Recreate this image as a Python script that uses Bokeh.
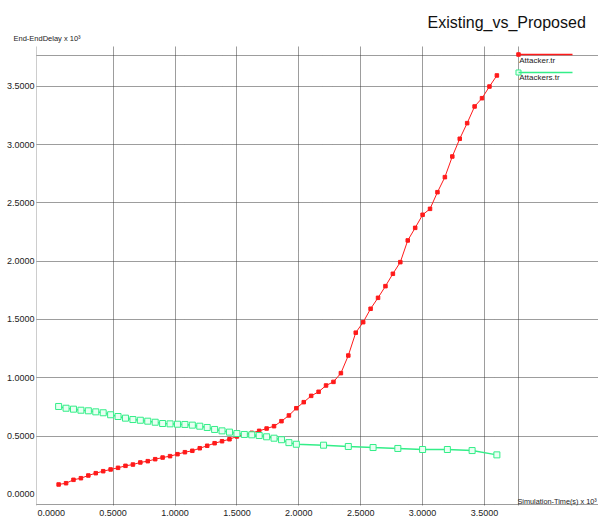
from bokeh.plotting import figure
from bokeh.models import (Range1d, FixedTicker, NumeralTickFormatter, Label,
                          Title, Arrow)
from bokeh.embed import file_html
from bokeh.resources import INLINE

# ---- data (x in units of 10^3 s, delay in units of 10^3) ----
attacker_x = [0.06, 0.12, 0.18, 0.24, 0.30, 0.36, 0.42, 0.48, 0.54, 0.60,
              0.66, 0.72, 0.78, 0.84, 0.90, 0.96, 1.02, 1.08, 1.14, 1.20,
              1.26, 1.32, 1.38, 1.44, 1.50, 1.56, 1.62, 1.68, 1.74, 1.80,
              1.86, 1.92, 1.98, 2.04, 2.10, 2.16, 2.22, 2.28, 2.34, 2.40,
              2.46, 2.52, 2.58, 2.64, 2.70, 2.76, 2.82, 2.88, 2.94, 3.00,
              3.06, 3.12, 3.18, 3.24, 3.30, 3.36, 3.42, 3.48, 3.54, 3.60]
attacker_y = [0.085, 0.096, 0.125, 0.139, 0.162, 0.182, 0.199, 0.214, 0.228, 0.245,
              0.256, 0.274, 0.285, 0.302, 0.316, 0.328, 0.345, 0.362, 0.374, 0.396,
              0.417, 0.439, 0.456, 0.473, 0.497, 0.514, 0.528, 0.545, 0.565, 0.585,
              0.628, 0.677, 0.739, 0.791, 0.845, 0.880, 0.934, 0.965, 1.040, 1.191,
              1.387, 1.477, 1.592, 1.686, 1.786, 1.892, 1.992, 2.178, 2.286, 2.398,
              2.449, 2.592, 2.721, 2.898, 3.050, 3.184, 3.327, 3.398, 3.498, 3.593]

attackers_x = [0.06, 0.12, 0.18, 0.24, 0.30, 0.36, 0.42, 0.48, 0.54, 0.60,
               0.66, 0.72, 0.78, 0.84, 0.90, 0.96, 1.02, 1.08, 1.14, 1.20,
               1.26, 1.32, 1.38, 1.44, 1.50, 1.56, 1.62, 1.68, 1.74, 1.80,
               1.86, 1.92, 1.98, 2.2, 2.4, 2.6, 2.8, 3.0, 3.2, 3.4, 3.6]
attackers_y = [0.754, 0.739, 0.731, 0.722, 0.717, 0.708, 0.700, 0.683, 0.668, 0.654,
               0.642, 0.636, 0.628, 0.619, 0.608, 0.605, 0.602, 0.600, 0.594, 0.585,
               0.574, 0.557, 0.545, 0.534, 0.522, 0.514, 0.511, 0.505, 0.494, 0.482,
               0.469, 0.444, 0.430, 0.422, 0.411, 0.402, 0.394, 0.385, 0.385, 0.376, 0.339]

x_ticks = [0.0, 0.5, 1.0, 1.5, 2.0, 2.5, 3.0, 3.5]
y_ticks = [0.0, 0.5, 1.0, 1.5, 2.0, 2.5, 3.0, 3.5]
grid_ticks = [0.5, 1.0, 1.5, 2.0, 2.5, 3.0, 3.5]

title_text = "Existing_vs_Proposed"
y_label = "End-EndDelay x 10³"
x_label = "Simulation-Time(s) x 10³"
series_names = ["Attacker.tr", "Attackers.tr"]

RED = "#ff1a1a"
GREEN = "#33ee88"
GRID = "#3a3a3a"
FONT = "Liberation Sans"

# plot box (the dotted rectangle) in data units; the frame extends further
# right and up so that the legend and the x label can sit inside it
BOX_L, BOX_R, BOX_B, BOX_T = -0.1163, 3.7706, -0.0909, 3.7642

p = figure(width=598, height=520, output_backend="svg", toolbar_location=None,
           x_range=Range1d(-0.11874, 4.42084), y_range=Range1d(-0.0952, 3.84134),
           min_border_left=36, min_border_right=0, min_border_top=46,
           min_border_bottom=15, background_fill_color="white",
           border_fill_color="white")
p.outline_line_color = None

for ax in (p.xaxis[0], p.yaxis[0]):
    ax.axis_line_color = None
    ax.major_tick_line_color = None
    ax.minor_tick_line_color = None
    ax.major_tick_in = 0
    ax.major_tick_out = 0
    ax.minor_tick_in = 0
    ax.minor_tick_out = 0
    ax.major_label_text_font = FONT
    ax.major_label_text_font_size = "9px"
    ax.major_label_text_color = "#222222"
    ax.formatter = NumeralTickFormatter(format="0.0000")
p.xaxis.major_label_standoff = 4
p.yaxis.major_label_standoff = 2

p.xaxis.ticker = FixedTicker(ticks=x_ticks)
p.yaxis.ticker = FixedTicker(ticks=y_ticks)

# the grid also draws the dotted box: its edges are extra grid lines
p.xgrid.ticker = FixedTicker(ticks=[BOX_L] + grid_ticks + [BOX_R])
p.ygrid.ticker = FixedTicker(ticks=[BOX_B] + grid_ticks + [BOX_T])
p.xgrid.bounds = (BOX_B, BOX_T)
p.ygrid.bounds = (BOX_L, BOX_R)
for g in (p.xgrid[0], p.ygrid[0]):
    g.grid_line_color = GRID
    g.grid_line_dash = "1 1"
    g.grid_line_width = 1

# series
p.line(attacker_x, attacker_y, line_color=RED, line_width=1)
p.scatter(attacker_x, attacker_y, marker="square", size=3.5,
          fill_color=RED, line_color=RED)

p.line(attackers_x, attackers_y, line_color=GREEN, line_width=1.5)
p.scatter(attackers_x, attackers_y, marker="square", size=6,
          fill_color="#e8fff2", line_color=GREEN, line_width=1)

# titles in the top border: first added sits next to the frame
p.add_layout(Title(text=y_label, align="left", offset=-23, standoff=7,
                   text_font=FONT, text_font_size="7.5px",
                   text_font_style="normal", text_color="#222222"), "above")
p.add_layout(Title(text=title_text, align="left", offset=391, standoff=-4,
                   text_font=FONT, text_font_size="16px",
                   text_font_style="normal", text_color="#111111"), "above")

# legend at the right of the plot box: line on top, name just below
LEG_X0, LEG_X1 = 3.7746, 4.2108
leg_rows = [(3.7727, 3.7213, RED), (3.6184, 3.5712, GREEN)]
for (ly, ty, col), name in zip(leg_rows, series_names):
    p.add_layout(Arrow(x_start=LEG_X0, y_start=ly, x_end=LEG_X1, y_end=ly,
                       end=None, line_color=col, line_width=1.5))
    p.add_layout(Label(x=LEG_X0 + 0.006, y=ty, text=name, text_align="left",
                       text_baseline="middle", text_font=FONT,
                       text_font_size="8px", text_color="#222222"))
p.scatter([LEG_X0], [leg_rows[0][0]], marker="square", size=3.5,
          fill_color=RED, line_color=RED)
p.scatter([LEG_X0], [leg_rows[1][0]], marker="square", size=5,
          fill_color="#e8fff2", line_color=GREEN)

# x axis label next to the bottom-right corner of the plot box
p.add_layout(Label(x=3.7665, y=-0.0952, text=x_label, text_align="left",
                   text_baseline="bottom", text_font=FONT,
                   text_font_size="7.3px", text_color="#222222"))

open("out.html", "w").write(file_html(p, INLINE))
